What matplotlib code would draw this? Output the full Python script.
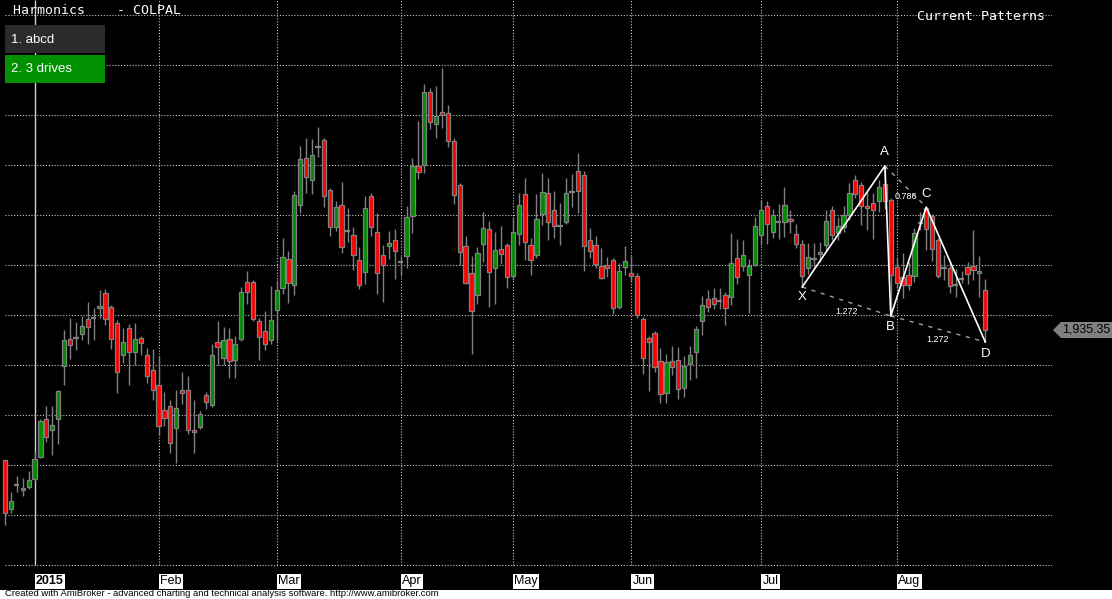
import matplotlib
matplotlib.use('Agg')
import matplotlib.pyplot as plt
import matplotlib.transforms as mtransforms
from matplotlib.patches import Rectangle, Polygon
import numpy as np

plt.rcParams['font.family'] = ['Liberation Sans', 'DejaVu Sans']

# Daily OHLC for COLPAL, late Dec 2014 .. Aug 2015
opens = [1805, 1756, 1780, 1775, 1778, 1786, 1808, 1846, 1835, 1846,
         1899, 1926, 1927, 1931, 1946, 1947, 1957, 1972, 1958, 1942,
         1910, 1937, 1913, 1927, 1910, 1895, 1880, 1855, 1859, 1837,
         1875, 1875, 1835, 1838, 1870, 1860, 1923, 1907, 1926, 1905,
         1926, 1983, 1983, 1944, 1934, 1925, 1955, 1977, 2006, 1980,
         2060, 2107, 2085, 2118, 2125, 2075, 2038, 2060, 2034, 2030,
         2005, 1993, 2069, 2033, 2010, 2019, 2025, 2003, 2009, 2049,
         2099, 2100, 2173, 2141, 2153, 2152, 2124, 2080, 2019, 1992,
         1970, 2021, 2036, 1997, 2016, 2020, 1989, 2031, 2071, 2020,
         2010, 2051, 2072, 2055, 2039, 2043, 2073, 2094, 2090, 2025,
         2020, 1999, 2000, 2005, 1958, 1998, 1992, 1989, 1946, 1927,
         1932, 1904, 1872, 1904, 1905, 1877, 1901, 1913, 1944, 1966,
         1967, 1964, 1970, 1968, 2007, 1999, 1990, 2000, 2030, 2059,
         2033, 2043, 2043, 2046, 2031, 2021, 1997, 2006, 2011, 2020,
         2055, 2032, 2038, 2050, 2085, 2080, 2059, 2062, 2064, 2081,
         2065, 1998, 1988, 1990, 1989, 2042, 2057, 2049, 2025, 1997,
         1997, 1980, 1986, 1998, 1999, 1992, 1975]
highs = [1805, 1773, 1789, 1787, 1794, 1813, 1846, 1859, 1859, 1875,
         1935, 1947, 1943, 1949, 1963, 1957, 1975, 1976, 1960, 1945,
         1937, 1941, 1942, 1929, 1917, 1916, 1909, 1873, 1865, 1875,
         1893, 1889, 1865, 1854, 1873, 1921, 1944, 1938, 1937, 1929,
         1978, 1994, 1985, 1947, 1954, 1979, 1985, 2027, 2014, 2074,
         2119, 2127, 2126, 2138, 2127, 2077, 2064, 2083, 2057, 2038,
         2018, 2069, 2072, 2052, 2020, 2034, 2036, 2009, 2059, 2107,
         2144, 2181, 2177, 2179, 2197, 2160, 2127, 2082, 2029, 2009,
         2018, 2053, 2044, 2033, 2039, 2022, 2048, 2072, 2087, 2027,
         2071, 2092, 2087, 2074, 2062, 2087, 2091, 2112, 2094, 2037,
         2029, 2017, 2008, 2007, 2002, 2019, 2009, 1992, 1948, 1929,
         1934, 1917, 1911, 1919, 1918, 1909, 1919, 1939, 1969, 1975,
         1977, 1977, 1973, 2032, 2026, 2025, 2006, 2048, 2065, 2064,
         2056, 2061, 2078, 2055, 2041, 2025, 2022, 2022, 2023, 2055,
         2059, 2048, 2059, 2082, 2090, 2083, 2073, 2072, 2085, 2099,
         2067, 2008, 2012, 2003, 2037, 2053, 2058, 2051, 2027, 2010,
         2002, 1996, 1994, 2003, 2035, 2009, 1986]
lows = [1740, 1752, 1773, 1769, 1776, 1784, 1807, 1823, 1810, 1821,
        1880, 1906, 1915, 1925, 1921, 1925, 1947, 1940, 1916, 1872,
        1902, 1880, 1900, 1910, 1882, 1865, 1830, 1839, 1812, 1802,
        1861, 1831, 1812, 1836, 1856, 1858, 1900, 1900, 1887, 1887,
        1924, 1961, 1944, 1905, 1915, 1921, 1924, 1971, 1962, 1970,
        2052, 2072, 2071, 2108, 2058, 2029, 2034, 2012, 2023, 1995,
        1976, 1981, 2029, 1971, 1963, 2006, 1986, 1990, 1997, 2032,
        2086, 2092, 2136, 2127, 2137, 2118, 2061, 2000, 1981, 1911,
        1961, 2003, 1958, 1961, 2001, 1977, 1985, 2020, 2005, 1990,
        2007, 2040, 2025, 2027, 2020, 2041, 2058, 2052, 1994, 2007,
        1997, 1986, 1988, 1951, 1956, 1990, 1983, 1947, 1891, 1874,
        1893, 1862, 1862, 1890, 1866, 1868, 1885, 1887, 1930, 1953,
        1956, 1956, 1940, 1960, 1981, 1994, 1952, 1999, 2020, 2021,
        2027, 2026, 2028, 2032, 2017, 1978, 1991, 1998, 2003, 2015,
        2025, 2025, 2033, 2045, 2067, 2040, 2035, 2026, 2053, 2056,
        1949, 1977, 1967, 1975, 1983, 2035, 2015, 2004, 1987, 1985,
        1972, 1968, 1982, 1981, 1985, 1968, 1923]
closes = [1752, 1764, 1780, 1777, 1785, 1806, 1844, 1828, 1840, 1874,
          1925, 1920, 1927, 1939, 1938, 1947, 1959, 1946, 1926, 1893,
          1923, 1913, 1926, 1922, 1889, 1875, 1839, 1847, 1822, 1857,
          1872, 1835, 1833, 1851, 1863, 1910, 1918, 1925, 1904, 1921,
          1973, 1973, 1946, 1928, 1921, 1945, 1975, 2008, 1982, 2070,
          2106, 2088, 2110, 2118, 2069, 2038, 2058, 2018, 2034, 2010,
          1980, 2057, 2038, 1992, 2000, 2022, 2014, 2003, 2048, 2099,
          2093, 2173, 2143, 2149, 2150, 2124, 2070, 2013, 1982, 1954,
          2012, 2037, 1993, 2015, 2011, 1988, 2033, 2060, 2023, 2005,
          2046, 2073, 2043, 2039, 2039, 2072, 2073, 2074, 2019, 2014,
          2001, 1987, 1997, 1957, 1994, 2004, 1989, 1950, 1907, 1923,
          1898, 1871, 1903, 1898, 1876, 1899, 1910, 1936, 1960, 1958,
          1961, 1964, 1957, 2002, 1988, 2010, 1999, 2039, 2055, 2041,
          2050, 2043, 2060, 2044, 2021, 1989, 2008, 2006, 2013, 2044,
          2030, 2039, 2050, 2072, 2071, 2059, 2057, 2055, 2078, 2064,
          1990, 1982, 1980, 1980, 2032, 2043, 2036, 2016, 1989, 1997,
          1979, 1980, 1986, 1991, 1995, 1994, 1935.35]

# month starts (bar index) and labels
month_idx = [5, 26, 46, 67, 86, 106, 128, 151]
month_labels = ['2015', 'Feb', 'Mar', 'Apr', 'May', 'Jun', 'Jul', 'Aug']

# harmonic pattern points (bar index, price)
pat_names = ['X', 'A', 'B', 'C', 'D']
pat_idx = [135, 149, 150, 156, 166]
pat_price = [1978, 2099, 1949, 2058, 1923]
ratio_labels = ['1.272', '0.786', '1.272']   # XB, AC, BD

last_price = closes[-1]

W, H = 1112, 599
fig = plt.figure(figsize=(W / 100, H / 100), dpi=100, facecolor='black')
ax = fig.add_axes([0, 1 - 570 / H, 1052 / W, 570 / H])
ax.set_facecolor('black')
for s in ax.spines.values():
    s.set_visible(False)
ax.set_xticks([])
ax.set_yticks([])
ax.set_xlim(-0.85, 177.3)
ax.set_ylim(1695, 2265)

n = len(closes)
x = np.arange(n)
o = np.array(opens, float)
h = np.array(highs, float)
l = np.array(lows, float)
c = np.array(closes, float)

# grid
dot = (0, (1, 1.6))
ax.hlines(np.arange(1700, 2251, 50), 0, 177.3, colors='#c8c8c8', lw=0.8,
          linestyles=[dot], zorder=1)
ax.vlines(month_idx[1:], 1700, 2265, colors='#c8c8c8', lw=0.8,
          linestyles=[dot], zorder=1)
ax.vlines(month_idx[0], 1700, 2265, colors='#d0d0d0', lw=1.0, zorder=1)

# candles
grey = '#808080'
ax.vlines(x, l, h, colors=grey, lw=1.0, zorder=2)
doji = np.abs(c - o) < 0.5
up = (c > o) & ~doji
dn = (c < o) & ~doji
ax.bar(x[up], (c - o)[up], bottom=o[up], width=0.72, color='#008c00',
       edgecolor=grey, linewidth=0.9, zorder=3)
ax.bar(x[dn], (o - c)[dn], bottom=c[dn], width=0.72, color='#ff0000',
       edgecolor=grey, linewidth=0.9, zorder=3)
ax.hlines(c[doji], x[doji] - 0.45, x[doji] + 0.45, colors=grey, lw=1.6, zorder=3)

# harmonic pattern
ax.plot(pat_idx, pat_price, color='white', lw=1.2, zorder=5)
pairs = [(0, 2), (1, 3), (2, 4)]
for (a, b), lab in zip(pairs, ratio_labels):
    ax.plot([pat_idx[a], pat_idx[b]], [pat_price[a], pat_price[b]],
            color='#a0a0a0', lw=1.0, linestyle=(0, (3, 4)), zorder=4)
    mx = (pat_idx[a] + pat_idx[b]) / 2
    my = (pat_price[a] + pat_price[b]) / 2
    ax.annotate(lab, (mx, my), xytext=(0, -7.5), textcoords='offset points',
                ha='center', va='center', color='white', fontsize=6.5, zorder=6)
offsets = [-7.5, 10, -8, 9.5, -8.5]
for name, px, py, off in zip(pat_names, pat_idx, pat_price, offsets):
    ax.annotate(name, (px, py), xytext=(0, off), textcoords='offset points',
                ha='center', va='center', color='white', fontsize=9.5, zorder=6)

# month labels under the axis
trans = mtransforms.blended_transform_factory(ax.transData, fig.transFigure)
for i, lab in zip(month_idx, month_labels):
    ax.text(i + 0.25, 1 - 581 / H, lab, transform=trans, ha='left', va='center',
            fontsize=9, color='black', fontweight='bold' if lab == '2015' else 'normal',
            bbox=dict(boxstyle='square,pad=0.12', fc='white', ec='none'), clip_on=False)

# titles
fig.text(13 / W, 1 - 11 / H, 'Harmonics    - COLPAL', family='DejaVu Sans Mono',
         fontsize=9.5, color='white', va='center', ha='left')
fig.text(1045 / W, 1 - 16 / H, 'Current Patterns', family='DejaVu Sans Mono',
         fontsize=9.5, color='white', va='center', ha='right')

# pattern list boxes
fig.add_artist(Rectangle((5 / W, 1 - 53 / H), 100 / W, 28 / H,
                         transform=fig.transFigure, fc='#2b2b2b', ec='none'))
fig.add_artist(Rectangle((5 / W, 1 - 83 / H), 100 / W, 28 / H,
                         transform=fig.transFigure, fc='#009000', ec='none'))
fig.text(11 / W, 1 - 40 / H, '1. abcd', fontsize=9.5, color='white', va='center')
fig.text(11 / W, 1 - 69 / H, '2. 3 drives', fontsize=9.5, color='white', va='center')

# last price tag
fig.add_artist(Polygon([(1053 / W, 1 - 330 / H), (1061 / W, 1 - 322 / H),
                        (1, 1 - 322 / H), (1, 1 - 338 / H), (1061 / W, 1 - 338 / H)],
                       closed=True, transform=fig.transFigure, fc='#808080', ec='none'))
fig.text(1110 / W, 1 - 330 / H, f'{last_price:,.2f}', fontsize=9, color='black',
         ha='right', va='center')

# footer
fig.add_artist(Rectangle((0, 0), 1, 9.5 / H, transform=fig.transFigure,
                         fc='white', ec='none'))
fig.text(5 / W, 1 - 594 / H,
         'Created with AmiBroker - advanced charting and technical analysis software. http://www.amibroker.com',
         fontsize=6.8, color='black', va='center', ha='left')

fig.savefig('out.png', dpi=100, facecolor='black')
